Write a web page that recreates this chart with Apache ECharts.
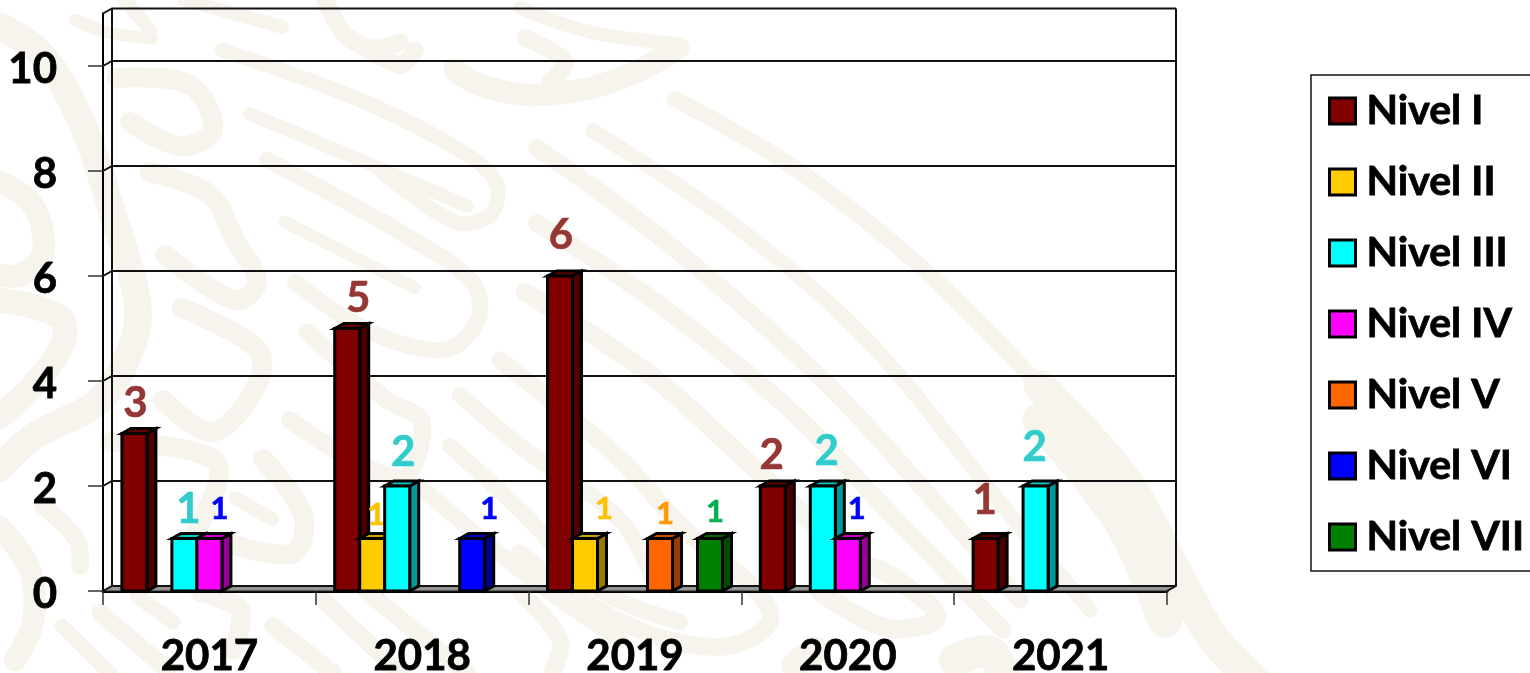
<!DOCTYPE html>
<html>
<head>
<meta charset="utf-8">
<style>html,body{margin:0;padding:0;background:#fff;overflow:hidden}#c{width:1530px;height:673px}</style>
<script src="https://cdn.jsdelivr.net/npm/echarts@6/dist/echarts.min.js"></script>
</head>
<body>
<div id="c"></div>
<script>
// ---- data ----
const years = ['2017', '2018', '2019', '2020', '2021'];
const nivelI   = [3, 5, 6, 2, 1];
const nivelII  = [null, 1, 1, null, null];
const nivelIII = [1, 2, null, 2, 2];
const nivelIV  = [1, null, null, 1, null];
const nivelV   = [null, null, 1, null, null];
const nivelVI  = [null, 1, null, null, null];
const nivelVII = [null, null, 1, null, null];
const yTicks = [0, 2, 4, 6, 8, 10];
const yMax = 11;

// ---- appearance ----
const FONT = 'Lato';
const DX = 9, DY = -5, BARW = 25;
const seriesDefs = [
  {name: 'Nivel I',   values: nivelI,   color: [128, 0, 0],   label: '#953735', size: 42},
  {name: 'Nivel II',  values: nivelII,  color: [255, 204, 0], label: '#FFC000', size: 31},
  {name: 'Nivel III', values: nivelIII, color: [0, 255, 255], label: '#31CDCD', size: 42},
  {name: 'Nivel IV',  values: nivelIV,  color: [255, 0, 255], label: '#0000FF', size: 31},
  {name: 'Nivel V',   values: nivelV,   color: [255, 102, 0], label: '#FF9900', size: 31},
  {name: 'Nivel VI',  values: nivelVI,  color: [0, 0, 255],   label: '#0000FF', size: 31},
  {name: 'Nivel VII', values: nivelVII, color: [0, 128, 0],   label: '#00B050', size: 31}
];
// hand placed data labels: offset of the text centre from the bar's top centre
const labelNudge = {
  '0-0':[1,-30], '2-0':[4,-29], '3-0':[10,-30],
  '0-1':[11,-30], '1-1':[4,-24], '2-1':[6,-34], '5-1':[17,-30],
  '0-2':[1,-41], '1-2':[19,-30],'4-2':[5,-25], '6-2':[5,-27],
  '0-3':[-1,-31], '2-3':[4,-35], '3-3':[9,-30],
  '0-4':[-1,-38],'2-4':[-1,-39]
};
const rgb = (c, k) => 'rgb(' + c.map(v => Math.round(v * k)).join(',') + ')';

// ---- pale watermark behind the chart (decoration only) ----
const WM = '#F6F4ED';
const swooshes = [
  [10,[[75,20],[110,33],[152,38]]], [11,[[125,0],[150,30]]], [11,[[185,0],[282,27]]],
  [14,[[325,0],[345,35],[372,48],[400,42]]], [14,[[345,35],[400,65],[415,50]]],
  [18,[[455,70],[480,85],[530,95],[590,88],[640,70],[678,48]]], [11,[[520,8],[590,32],[680,44]]], [14,[[525,38],[565,62],[550,82]]],
  [12,[[222,50],[367,103],[467,155],[497,185],[490,215],[455,222],[380,170]]],
  [11,[[250,114],[367,163],[467,206]]],
  [13,[[267,160],[400,232],[473,283],[477,322],[443,350],[367,330],[295,282]]],
  [10,[[285,222],[415,288]]],
  [14,[[307,332],[387,400],[422,422],[400,478],[290,420]]],
  [16,[[150,172],[210,195],[235,240],[257,282],[235,300],[165,255]]],
  [16,[[117,78],[190,85],[213,130],[180,146],[130,122]]],
  [16,[[182,308],[258,350],[257,385],[213,432],[163,400]]],
  [22,[[0,26],[43,56],[83,125],[113,215],[137,300],[133,343],[100,400],[33,437],[0,468]]],
  [18,[[0,182],[33,205],[43,253],[20,275],[0,275]]],
  [20,[[0,300],[60,317],[63,343],[33,386],[0,416]]],
  [18,[[0,527],[30,570],[33,622],[15,660]]],
  [14,[[43,506],[77,540],[80,566]]],
  [16,[[110,442],[217,463],[193,536]]],
  [11,[[235,498],[272,519]]],
  [16,[[263,459],[303,515],[293,553],[235,545]]],
  [13,[[423,489],[520,570],[620,640]]], [13,[[460,395],[520,446],[620,520],[655,585]]], [13,[[450,446],[520,510],[600,590],[680,622]]],
  [14,[[500,360],[620,459],[687,532],[753,587],[770,622],[720,647],[620,622],[520,553]]],
  [15,[[525,292],[653,377],[753,467],[853,558],[890,575],[937,617],[887,628],[820,592]]],
  [14,[[537,223],[653,300],[787,407],[887,510],[1003,630]]],
  [14,[[537,148],[670,245],[820,377],[920,485],[1020,600]]],
  [12,[[593,131],[737,227],[870,343],[1003,506],[1090,610]]],
  [13,[[675,99],[793,167],[920,266],[1040,386]]],
  [28,[[1040,420],[1120,520],[1165,620]]], [26,[[1040,386],[1125,480],[1180,580],[1215,640],[1270,695]]],
  [14,[[100,613],[167,669]]], [12,[[62,626],[110,673]]], [12,[[137,596],[173,622]]],
  [16,[[200,592],[240,610],[233,650]]], [14,[[273,626],[333,673]]], [14,[[323,600],[400,673]]], [14,[[367,592],[467,673]]],
  [14,[[520,592],[560,640],[553,670]]], [26,[[955,660],[990,652],[1005,680]]], [22,[[795,665],[815,650]]]
];
const graphics = swooshes.map(s => ({
  type: 'polyline', silent: true, z: -100,
  shape: {points: s[1], smooth: 0.35},
  style: {stroke: WM, lineWidth: s[0] * 1.25, lineCap: 'round', lineJoin: 'round', fill: null}
}));

// ---- the 3-D box: back wall, side wall, floor ----
function renderWall(params, api) {
  const v = api.value(0);
  const cs = params.coordSys;
  const x0 = cs.x, x1 = cs.x + cs.width;
  const y = api.coord([0, v])[1];
  const children = [];
  const line = {stroke: '#111', lineWidth: 2, fill: null, lineJoin: 'miter'};
  if (v === 0) {
    children.push({type: 'polygon', shape: {points: [[x0, y], [x0 + DX, y + DY], [x1 + DX, y + DY], [x1, y]]},
      style: {fill: '#969696', stroke: '#222', lineWidth: 1}});
  }
  children.push({type: 'polyline', shape: {points: [[x0, y], [x0 + DX, y + DY], [x1 + DX, y + DY]]}, style: line});
  if (v === yMax) {
    const yb = api.coord([0, 0])[1];
    children.push({type: 'line', shape: {x1: x0 + DX, y1: y + DY, x2: x0 + DX, y2: yb + DY}, style: line});
    children.push({type: 'polyline', shape: {points: [[x1 + DX, y + DY], [x1 + DX, yb + DY], [x1, yb]]}, style: line});
  }
  return {type: 'group', children};
}

// ---- one 3-D bar ----
function makeBarRenderer(sIndex) {
  const def = seriesDefs[sIndex];
  return function (params, api) {
    const v = api.value(1);
    if (v == null || isNaN(v)) return null;
    const cat = api.value(0);
    const cx = api.coord([cat, 0])[0];
    const groupW = BARW * seriesDefs.length;
    const x = cx - groupW / 2 + sIndex * BARW;
    const yTop = api.coord([cat, v])[1];
    const yBot = api.coord([cat, 0])[1];
    const edge = {stroke: '#000', lineWidth: 3, lineJoin: 'miter'};
    const nudge = labelNudge[sIndex + '-' + cat] || [0, -30];
    return {type: 'group', children: [
      {type: 'polygon', shape: {points: [[x + BARW, yTop], [x + BARW + DX, yTop + DY], [x + BARW + DX, yBot + DY], [x + BARW, yBot]]},
        style: Object.assign({fill: rgb(def.color, 0.6)}, edge)},
      {type: 'polygon', shape: {points: [[x, yTop], [x + DX, yTop + DY], [x + BARW + DX, yTop + DY], [x + BARW, yTop]]},
        style: Object.assign({fill: rgb(def.color, 0.8)}, edge)},
      {type: 'rect', shape: {x: x, y: yTop, width: BARW, height: yBot - yTop},
        style: Object.assign({fill: rgb(def.color, 1)}, edge)},
      {type: 'text', z2: 50, style: {
        text: String(v), x: x + BARW / 2 + nudge[0], y: yTop + nudge[1],
        align: 'center', verticalAlign: 'middle',
        fontFamily: FONT, fontWeight: 'bold', fontSize: def.size, fill: def.label,
        stroke: def.label, lineWidth: 0.6}}
    ]};
  };
}

const barSeries = seriesDefs.map((d, i) => ({
  type: 'custom', name: d.name, z: 5 + i, clip: false,
  renderItem: makeBarRenderer(i),
  itemStyle: {color: rgb(d.color, 1)},
  encode: {x: 0, y: 1},
  data: years.map((_, k) => [k, d.values[k]])
}));

const heavy = {textBorderColor: '#000', textBorderWidth: 0.8};
const chart = echarts.init(document.getElementById('c'), null, {renderer: 'canvas'});
chart.setOption({
  animation: false,
  backgroundColor: 'transparent',
  graphic: {elements: graphics},
  grid: {left: 103, right: 363, top: 13.5, bottom: 82, containLabel: false, outerBoundsMode: 'none'},
  xAxis: {
    type: 'category', data: years, boundaryGap: true,
    axisLine: {show: true, onZero: false, lineStyle: {color: '#000', width: 3}},
    axisTick: {show: true, alignWithLabel: false, length: 14, lineStyle: {color: '#333', width: 1.5}},
    axisLabel: Object.assign({margin: 44, color: '#000', fontFamily: FONT, fontWeight: 'bold', fontSize: 42}, heavy),
    splitLine: {show: false}
  },
  yAxis: {
    type: 'value', min: 0, max: yMax, interval: 2,
    axisLine: {show: true, lineStyle: {color: '#000', width: 2}},
    axisTick: {show: true, length: 15, customValues: yTicks, lineStyle: {color: '#333', width: 1.5}},
    axisLabel: Object.assign({margin: 46, color: '#000', fontFamily: FONT, fontWeight: 'bold', fontSize: 42, customValues: yTicks, verticalAlign: 'top', lineHeight: 6}, heavy),
    splitLine: {show: false}
  },
  legend: {
    show: true, orient: 'vertical', left: 1311, top: 75,
    data: seriesDefs.map(d => d.name),
    selectedMode: false,
    icon: 'rect', itemWidth: 26, itemHeight: 26, itemGap: 21,
    itemStyle: {borderColor: '#000', borderWidth: 3},
    padding: [11, 0, 9, 17],
    backgroundColor: '#fff', borderColor: '#111', borderWidth: 1.5,
    textStyle: Object.assign({color: '#000', fontFamily: FONT, fontWeight: 'bold', fontSize: 41, lineHeight: 48, width: 215, padding: [2, 0, 0, 6]}, heavy)
  },
  series: [{
    type: 'custom', name: 'wall', z: 1, clip: false, silent: true,
    renderItem: renderWall, encode: {y: 0},
    data: yTicks.concat([yMax]).map(v => [v])
  }].concat(barSeries)
});
</script>
</body>
</html>
